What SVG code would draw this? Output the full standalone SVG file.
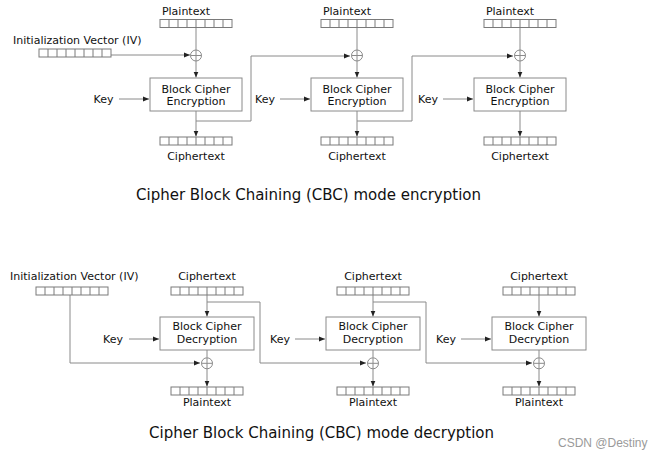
<svg xmlns="http://www.w3.org/2000/svg" xmlns:xlink="http://www.w3.org/1999/xlink" width="664" height="460" viewBox="0 0 664 460">
<style>
  text { font-family: "DejaVu Sans", "Liberation Sans", sans-serif; fill: #111; }
  .lbl { font-size: 11px; }
  .mid { text-anchor: middle; }
  .end { text-anchor: end; }
  .title { font-size: 15px; text-anchor: middle; }
  .wm { font-family: "Liberation Sans", Arial, sans-serif; font-size: 12px; fill: #9a9a9a; }
  .ln { fill: none; stroke: #8a8a8a; stroke-width: 1; }
  .arr { fill: none; stroke: #8a8a8a; stroke-width: 1; marker-end: url(#ah); }
  .box { fill: #fff; stroke: #8a8a8a; stroke-width: 1; }
  .cell { fill: #fff; stroke: #7a7a7a; stroke-width: 1; }
  .xor { fill: none; stroke: #8a8a8a; stroke-width: 1; }
</style>
<defs>
  <marker id="ah" viewBox="0 0 6 6" refX="6" refY="3" markerWidth="6" markerHeight="6" markerUnits="userSpaceOnUse" orient="auto">
    <path d="M0,0.5 L6,3 L0,5.5 z" fill="#222"/>
  </marker>
  <g id="bar">
    <rect class="cell" x="0" y="0" width="72" height="8"/>
    <path class="cell" d="M9,0V8M18,0V8M27,0V8M36,0V8M45,0V8M54,0V8M63,0V8"/>
  </g>
  <g id="xor">
    <circle class="xor" cx="0" cy="0" r="5.5"/>
    <path class="xor" d="M-5.5,0H5.5M0,-5.5V5.5"/>
  </g>
</defs>
<rect width="664" height="460" fill="#fff"/>

<!-- ===== Encryption ===== -->
<g id="connectors-enc">
  <!-- IV to first xor -->
  <line class="arr" x1="111" y1="55" x2="190" y2="55"/>
  <!-- block 1 -->
  <line class="ln" x1="196" y1="28" x2="196" y2="50"/>
  <line class="arr" x1="196" y1="61" x2="196" y2="77.5"/>
  <line class="arr" x1="119" y1="99" x2="149" y2="99"/>
  <line class="arr" x1="196" y1="111" x2="196" y2="136.5"/>
  <polyline class="arr" points="196,121 251,121 251,56 350,56"/>
  <!-- block 2 -->
  <line class="ln" x1="357" y1="28" x2="357" y2="50"/>
  <line class="arr" x1="357" y1="61" x2="357" y2="77.5"/>
  <line class="arr" x1="280" y1="99" x2="310" y2="99"/>
  <line class="arr" x1="357" y1="111" x2="357" y2="136.5"/>
  <polyline class="arr" points="357,121 412,121 412,56 513,56"/>
  <!-- block 3 -->
  <line class="ln" x1="520" y1="28" x2="520" y2="50"/>
  <line class="arr" x1="520" y1="61" x2="520" y2="77.5"/>
  <line class="arr" x1="443" y1="99" x2="473" y2="99"/>
  <line class="arr" x1="520" y1="111" x2="520" y2="136.5"/>
</g>

<g id="iv-enc">
  <text class="lbl" x="13" y="43.5">Initialization Vector (IV)</text>
  <use xlink:href="#bar" x="39" y="49"/>
</g>

<g id="enc-block-1">
  <text class="lbl mid" x="186" y="15">Plaintext</text>
  <use xlink:href="#bar" x="160" y="19.5"/>
  <use xlink:href="#xor" x="196" y="55.5"/>
  <text class="lbl end" x="113.5" y="102.5">Key</text>
  <rect class="box" x="150" y="78" width="92" height="33"/>
  <text class="lbl mid" x="196" y="92.5">Block Cipher</text>
  <text class="lbl mid" x="196" y="105">Encryption</text>
  <use xlink:href="#bar" x="160" y="137"/>
  <text class="lbl mid" x="196" y="160">Ciphertext</text>
</g>

<g id="enc-block-2">
  <text class="lbl mid" x="347" y="15">Plaintext</text>
  <use xlink:href="#bar" x="321" y="19.5"/>
  <use xlink:href="#xor" x="357" y="55.5"/>
  <text class="lbl end" x="275" y="102.5">Key</text>
  <rect class="box" x="311" y="78" width="92" height="33"/>
  <text class="lbl mid" x="357" y="92.5">Block Cipher</text>
  <text class="lbl mid" x="357" y="105">Encryption</text>
  <use xlink:href="#bar" x="321" y="137"/>
  <text class="lbl mid" x="357" y="160">Ciphertext</text>
</g>

<g id="enc-block-3">
  <text class="lbl mid" x="510" y="15">Plaintext</text>
  <use xlink:href="#bar" x="484" y="19.5"/>
  <use xlink:href="#xor" x="520" y="55.5"/>
  <text class="lbl end" x="438" y="102.5">Key</text>
  <rect class="box" x="474" y="78" width="92" height="33"/>
  <text class="lbl mid" x="520" y="92.5">Block Cipher</text>
  <text class="lbl mid" x="520" y="105">Encryption</text>
  <use xlink:href="#bar" x="484" y="137"/>
  <text class="lbl mid" x="520" y="160">Ciphertext</text>
</g>

<text class="title" x="308.5" y="200">Cipher Block Chaining (CBC) mode encryption</text>

<!-- ===== Decryption ===== -->
<g id="connectors-dec">
  <polyline class="arr" points="70,295 70,363 200,363"/>
  <!-- block 1 -->
  <line class="arr" x1="207" y1="295" x2="207" y2="316.5"/>
  <line class="arr" x1="129" y1="339" x2="159" y2="339"/>
  <line class="ln" x1="207" y1="350" x2="207" y2="357.5"/>
  <line class="arr" x1="207" y1="369" x2="207" y2="386.5"/>
  <polyline class="arr" points="207,302 260,302 260,363 366,363"/>
  <!-- block 2 -->
  <line class="arr" x1="373" y1="295" x2="373" y2="316.5"/>
  <line class="arr" x1="295" y1="339" x2="325" y2="339"/>
  <line class="ln" x1="373" y1="350" x2="373" y2="357.5"/>
  <line class="arr" x1="373" y1="369" x2="373" y2="386.5"/>
  <polyline class="arr" points="373,302 426,302 426,363 532,363"/>
  <!-- block 3 -->
  <line class="arr" x1="539" y1="295" x2="539" y2="316.5"/>
  <line class="arr" x1="461" y1="339" x2="491" y2="339"/>
  <line class="ln" x1="539" y1="350" x2="539" y2="357.5"/>
  <line class="arr" x1="539" y1="369" x2="539" y2="386.5"/>
</g>

<g id="iv-dec">
  <text class="lbl" x="10" y="280">Initialization Vector (IV)</text>
  <use xlink:href="#bar" x="36" y="287"/>
</g>

<g id="dec-block-1">
  <text class="lbl mid" x="207" y="280">Ciphertext</text>
  <use xlink:href="#bar" x="171" y="287"/>
  <text class="lbl end" x="123" y="342.5">Key</text>
  <rect class="box" x="160" y="317" width="94" height="33"/>
  <text class="lbl mid" x="207" y="330">Block Cipher</text>
  <text class="lbl mid" x="207" y="343">Decryption</text>
  <use xlink:href="#xor" x="207" y="363.3"/>
  <use xlink:href="#bar" x="171" y="387"/>
  <text class="lbl mid" x="207" y="406">Plaintext</text>
</g>

<g id="dec-block-2">
  <text class="lbl mid" x="373" y="280">Ciphertext</text>
  <use xlink:href="#bar" x="337" y="287"/>
  <text class="lbl end" x="290" y="342.5">Key</text>
  <rect class="box" x="326" y="317" width="94" height="33"/>
  <text class="lbl mid" x="373" y="330">Block Cipher</text>
  <text class="lbl mid" x="373" y="343">Decryption</text>
  <use xlink:href="#xor" x="373" y="363.3"/>
  <use xlink:href="#bar" x="337" y="387"/>
  <text class="lbl mid" x="373" y="406">Plaintext</text>
</g>

<g id="dec-block-3">
  <text class="lbl mid" x="539" y="280">Ciphertext</text>
  <use xlink:href="#bar" x="503" y="287"/>
  <text class="lbl end" x="456" y="342.5">Key</text>
  <rect class="box" x="492" y="317" width="94" height="33"/>
  <text class="lbl mid" x="539" y="330">Block Cipher</text>
  <text class="lbl mid" x="539" y="343">Decryption</text>
  <use xlink:href="#xor" x="539" y="363.3"/>
  <use xlink:href="#bar" x="503" y="387"/>
  <text class="lbl mid" x="539" y="406">Plaintext</text>
</g>

<text class="title" x="321.5" y="438">Cipher Block Chaining (CBC) mode decryption</text>
<text class="wm" x="558" y="447">CSDN @Destiny</text>
</svg>
